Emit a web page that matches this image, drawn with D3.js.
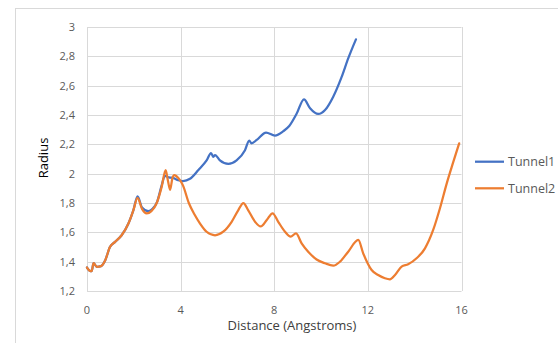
<!DOCTYPE html>
<html>
<head>
<meta charset="utf-8">
<script src="https://cdn.jsdelivr.net/npm/d3@7"></script>
<style>
  body { margin: 0; background: #fff; }
  svg { display: block; font-family: "Open Sans", sans-serif; }
</style>
</head>
<body>
<svg id="chart" width="558" height="343"></svg>
<script>
// values
const tunnel1Dist = [0, 0.1, 0.2, 0.28, 0.42, 0.6, 0.78, 0.98, 1.2, 1.48, 1.77, 1.98, 2.16,
    2.35, 2.62, 2.8, 3.0, 3.19, 3.33, 3.5, 3.7, 3.9, 4.1, 4.4, 4.76, 5.11, 5.3, 5.4, 5.47,
    5.68, 6.04, 6.39, 6.75, 6.93, 7.03, 7.25, 7.65, 8.03, 8.39, 8.64, 8.96, 9.27, 9.53,
    9.88, 10.17, 10.52, 10.88, 11.16, 11.49];
const tunnel1Radius = [1.36, 1.34, 1.335, 1.39, 1.365, 1.37, 1.41, 1.5, 1.535, 1.58, 1.66, 1.75, 1.845,
    1.77, 1.745, 1.76, 1.81, 1.92, 1.985, 1.975, 1.97, 1.955, 1.95, 1.965, 2.025, 2.09, 2.14, 2.115, 2.127,
    2.09, 2.066, 2.09, 2.16, 2.225, 2.207, 2.23, 2.28, 2.26, 2.29, 2.325, 2.41, 2.507, 2.446,
    2.407, 2.434, 2.525, 2.66, 2.786, 2.916];

const tunnel2Dist = [0, 0.1, 0.2, 0.28, 0.42, 0.6, 0.78, 0.98, 1.2, 1.48, 1.77, 1.98, 2.16,
    2.35, 2.55, 2.75, 2.98, 3.19, 3.36, 3.46, 3.55, 3.65, 3.73, 3.9, 4.1, 4.35, 4.6, 4.83,
    5.11, 5.47, 5.82, 6.18, 6.46, 6.68, 6.89, 7.18, 7.42, 7.68, 7.93, 8.17, 8.46, 8.7, 8.93,
    9.17, 9.45, 9.81, 10.17, 10.52, 10.81, 11.16, 11.59, 11.8, 12.16, 12.44, 12.73, 12.94,
    13.16, 13.44, 13.72, 14.08, 14.44, 14.79, 15.08, 15.37, 15.65, 15.9];
const tunnel2Radius = [1.36, 1.34, 1.335, 1.39, 1.365, 1.37, 1.41, 1.5, 1.535, 1.58, 1.66, 1.75, 1.835,
    1.76, 1.73, 1.745, 1.8, 1.91, 2.025, 1.95, 1.89, 1.97, 1.99, 1.97, 1.92, 1.8, 1.72, 1.66,
    1.604, 1.58, 1.604, 1.672, 1.75, 1.8, 1.75, 1.672, 1.64, 1.684, 1.73, 1.672, 1.604, 1.57, 1.593,
    1.525, 1.468, 1.415, 1.389, 1.373, 1.4, 1.468, 1.548, 1.457, 1.343, 1.309, 1.287, 1.28,
    1.309, 1.366, 1.382, 1.423, 1.491, 1.616, 1.764, 1.934, 2.08, 2.207];

const xTicks = [0, 4, 8, 12, 16];
const yTicks = [1.2, 1.4, 1.6, 1.8, 2, 2.2, 2.4, 2.6, 2.8, 3];
const seriesNames = ["Tunnel1", "Tunnel2"];
const seriesColors = ["#4472c4", "#ed7d31"];

const series = [
    { name: seriesNames[0], color: seriesColors[0], pts: tunnel1Dist.map((d, i) => [d, tunnel1Radius[i]]) },
    { name: seriesNames[1], color: seriesColors[1], pts: tunnel2Dist.map((d, i) => [d, tunnel2Radius[i]]) }
];

const svg = d3.select("#chart");
const plotLeft = 87, plotRight = 461.5, plotTop = 27, plotBottom = 291;

// outer chart frame
svg.append("rect")
    .attr("x", 15.5).attr("y", 8.5)
    .attr("width", 600).attr("height", 400)
    .attr("fill", "#fff")
    .attr("stroke", "#d9d9d9");

const x = d3.scaleLinear().domain([0, 16]).range([plotLeft, plotRight]);
const y = d3.scaleLinear().domain([1.2, 3]).range([plotBottom, plotTop]);

// gridlines
svg.append("g").selectAll("line")
    .data(yTicks).enter().append("line")
    .attr("x1", plotLeft).attr("x2", plotRight)
    .attr("y1", d => Math.round(y(d)) + 0.5).attr("y2", d => Math.round(y(d)) + 0.5)
    .attr("stroke", "#d9d9d9");

svg.append("g").selectAll("line")
    .data(xTicks).enter().append("line")
    .attr("x1", d => Math.round(x(d)) + 0.5).attr("x2", d => Math.round(x(d)) + 0.5)
    .attr("y1", plotTop).attr("y2", plotBottom)
    .attr("stroke", "#d9d9d9");

// tick labels
svg.append("g").selectAll("text")
    .data(yTicks).enter().append("text")
    .attr("x", 75)
    .attr("y", d => y(d))
    .attr("dy", "0.36em")
    .attr("text-anchor", "end")
    .attr("font-size", "11px")
    .attr("fill", "#595959")
    .text(d => String(d).replace(".", ","));

svg.append("g").selectAll("text")
    .data(xTicks).enter().append("text")
    .attr("x", d => x(d))
    .attr("y", 314)
    .attr("text-anchor", "middle")
    .attr("font-size", "11px")
    .attr("fill", "#595959")
    .text(d => d);

// axis titles
svg.append("text")
    .attr("x", 292).attr("y", 330)
    .attr("text-anchor", "middle")
    .attr("font-size", "13px")
    .attr("fill", "#404040")
    .text("Distance (Angstroms)");

svg.append("text")
    .attr("transform", "translate(47.5,158) rotate(-90)")
    .attr("text-anchor", "middle")
    .attr("font-size", "13px")
    .attr("fill", "#000")
    .text("Radius");

// lines
const line = d3.line()
    .x(d => x(d[0]))
    .y(d => y(d[1]))
    .curve(d3.curveMonotoneX);

svg.append("g").selectAll("path")
    .data(series).enter().append("path")
    .attr("d", d => line(d.pts))
    .attr("fill", "none")
    .attr("stroke", d => d.color)
    .attr("stroke-width", 2.25)
    .attr("stroke-linejoin", "round")
    .attr("stroke-linecap", "round");

// legend
const legend = svg.append("g").selectAll("g")
    .data(series).enter().append("g")
    .attr("transform", (d, i) => `translate(475,${161.7 + i * 26.6})`);

legend.append("line")
    .attr("x1", 0).attr("x2", 29)
    .attr("stroke", d => d.color)
    .attr("stroke-width", 2.25);

legend.append("text")
    .attr("x", 33)
    .attr("dy", "0.36em")
    .attr("font-size", "12.5px")
    .attr("fill", "#595959")
    .text(d => d.name);
</script>
</body>
</html>
